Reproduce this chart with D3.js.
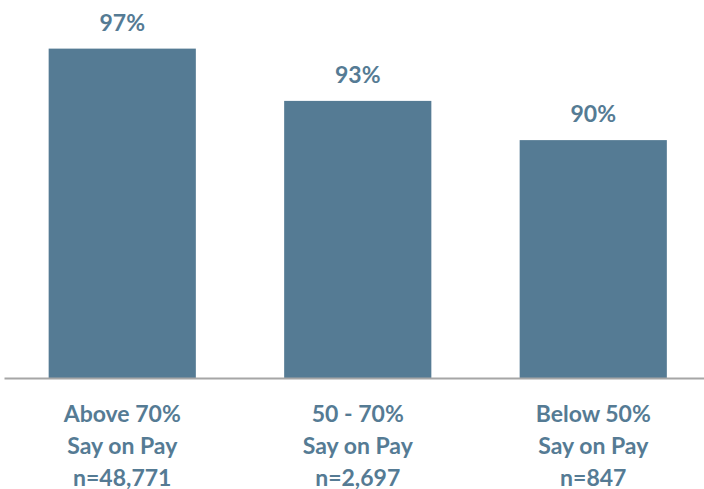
<!DOCTYPE html>
<html>
<head>
<meta charset="utf-8">
<script src="https://cdn.jsdelivr.net/npm/d3@7"></script>
<style>
  html, body { margin: 0; padding: 0; background: #ffffff; }
  svg { display: block; }
  text { font-family: Lato, "Open Sans", sans-serif; font-weight: 700; fill: #557b94; }
</style>
</head>
<body>
<svg id="chart" width="704" height="489"></svg>
<script>
// Support rate by Say on Pay result group
const groups = ["Above 70%", "50 - 70%", "Below 50%"];
const groupLines = [["Above 70%", "Say on Pay", "n=48,771"],
                    ["50 - 70%", "Say on Pay", "n=2,697"],
                    ["Below 50%", "Say on Pay", "n=847"]];
const rates = [97, 93, 90];

const width = 704, height = 489;
const baseY = 378;
const barColor = "#557b94";

const svg = d3.select("#chart");

const x = d3.scaleBand()
  .domain(groups)
  .range([4.5, 711])
  .paddingInner(0.375)
  .paddingOuter(0.1875);

const y = d3.scaleLinear()
  .domain([71.8, 100])
  .range([baseY, 9.4]);

// bars
svg.append("g").selectAll("rect")
  .data(rates)
  .join("rect")
  .attr("x", (d, i) => x(groups[i]))
  .attr("y", d => y(d))
  .attr("width", x.bandwidth())
  .attr("height", d => baseY - y(d))
  .attr("fill", barColor);

// baseline
svg.append("line")
  .attr("x1", 4.5).attr("x2", width)
  .attr("y1", baseY + 0.5).attr("y2", baseY + 0.5)
  .attr("stroke", "#a6a6a6")
  .attr("stroke-width", 2);

// value labels
svg.append("g").selectAll("text")
  .data(rates)
  .join("text")
  .attr("x", (d, i) => x(groups[i]) + x.bandwidth() / 2)
  .attr("y", d => y(d) - 18)
  .attr("text-anchor", "middle")
  .style("font-size", "23px")
  .text(d => d + "%");

// category labels
const cat = svg.append("g").selectAll("text")
  .data(groupLines)
  .join("text")
  .attr("text-anchor", "middle")
  .style("font-size", "23px")
  .attr("transform", (d, i) => `translate(${x(groups[i]) + x.bandwidth() / 2},0)`);

cat.selectAll("tspan")
  .data(d => d)
  .join("tspan")
  .attr("x", 0)
  .attr("y", (d, j) => 421.5 + j * 32)
  .text(d => d);
</script>
</body>
</html>
